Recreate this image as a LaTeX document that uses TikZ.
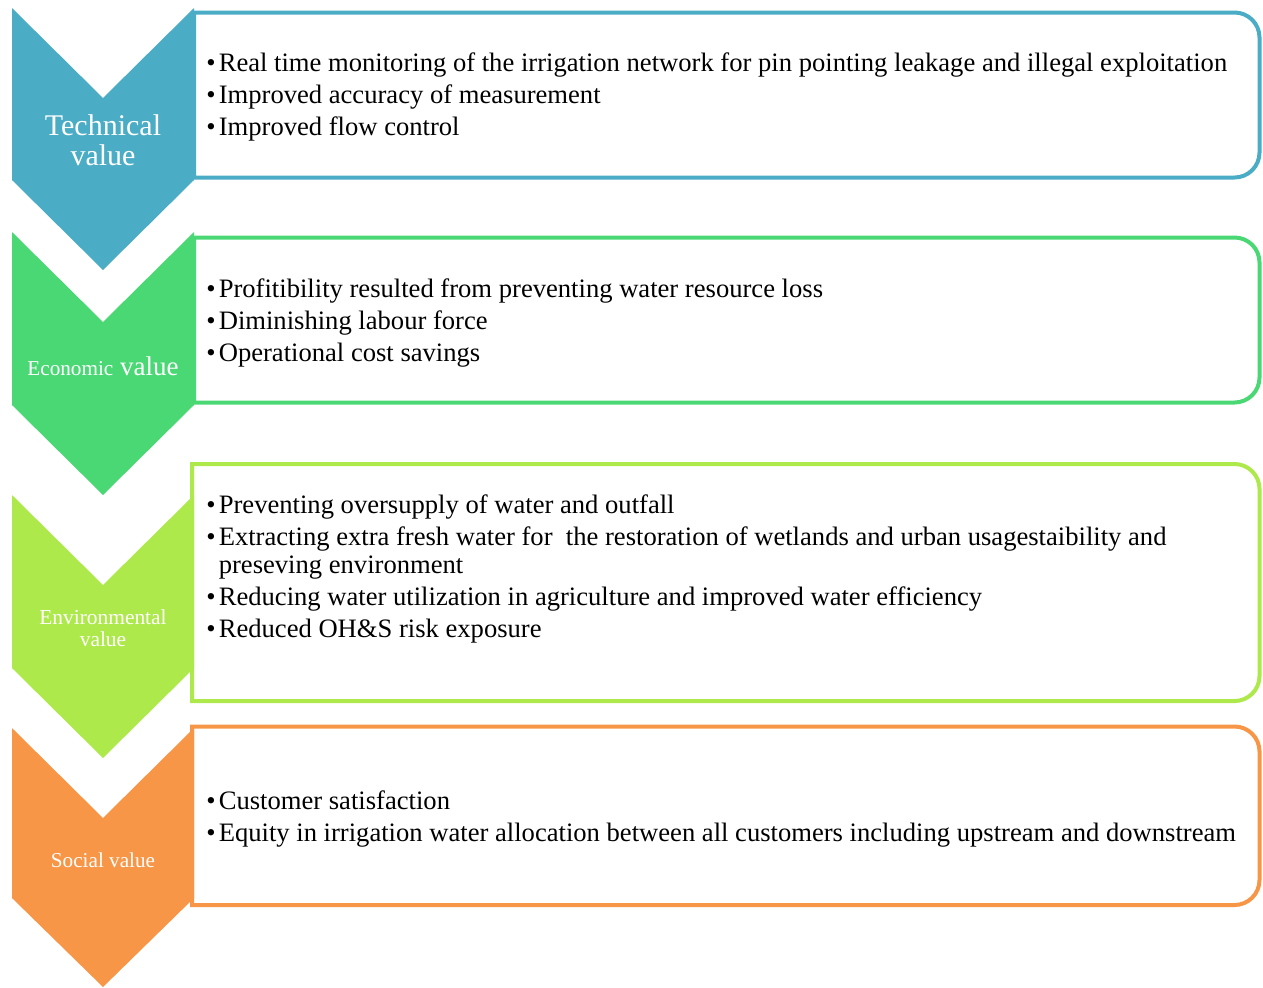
\documentclass[tikz,border=0pt]{standalone}
\usepackage{fontspec}
\setmainfont{Liberation Serif}

\definecolor{techblue}{HTML}{4BACC6}
\definecolor{econgreen}{HTML}{4AD874}
\definecolor{envlime}{HTML}{ADE94A}
\definecolor{socorange}{HTML}{F79646}

\newcommand{\bul}{\makebox[6.2pt][l]{\textbullet}}

\begin{document}
\begin{tikzpicture}[x=0.5pt,y=-0.5pt,
    valbox/.style={draw=#1,line width=2pt},
    lbl/.style={text=white,align=center,inner sep=0pt},
    items/.style={anchor=north west,align=left,inner sep=0pt,font=\fontsize{13.3}{14}\selectfont}]
  \useasboundingbox (0,0) rectangle (1263,987);

  % boxes, rounded on the right side only
  \draw[valbox=techblue] (194,12.5) [rounded corners=12.5pt] -- (1259.5,12.5) -- (1259.5,177.5) [sharp corners] -- (194,177.5) -- cycle;
  \draw[valbox=econgreen] (194,237.5) [rounded corners=12.5pt] -- (1259.5,237.5) -- (1259.5,402.5) [sharp corners] -- (194,402.5) -- cycle;
  \draw[valbox=envlime] (192,464) [rounded corners=12.5pt] -- (1259.5,464) -- (1259.5,701) [sharp corners] -- (192,701) -- cycle;
  \draw[valbox=socorange] (192,726.5) [rounded corners=12.5pt] -- (1259.5,726.5) -- (1259.5,905) [sharp corners] -- (192,905) -- cycle;

  % chevrons
  \fill[techblue] (12,8) -- (103,98) -- (194,8) -- (194,180) -- (103,270) -- (12,180) -- cycle;
  \fill[econgreen] (12,232) -- (103,322) -- (194,232) -- (194,405) -- (103,495) -- (12,405) -- cycle;
  \fill[envlime] (12,495) -- (103,585) -- (194,495) -- (194,668) -- (103,758) -- (12,668) -- cycle;
  \fill[socorange] (12,728) -- (103,818) -- (194,728) -- (194,898) -- (103,987) -- (12,898) -- cycle;

  \node[lbl,font=\fontsize{15}{15}\selectfont] (tech) at (103,140) {Technical\\value};
  \node[lbl,font=\fontsize{13.5}{15}\selectfont] (econ) at (103,366) {{\fontsize{10.6}{12}\selectfont Economic} value};
  \node[lbl,font=\fontsize{10.7}{11}\selectfont] (env) at (103,628) {Environmental\\value};
  \node[lbl,font=\fontsize{10.6}{11}\selectfont] (soc) at (103,860) {Social value};

  \node[items] (techitems) at (206,52) {\bul Real time monitoring of the irrigation network for pin pointing leakage and illegal exploitation\\[2pt]
    \bul Improved accuracy of measurement\\[2pt]
    \bul Improved flow control};
  \node[items] (econitems) at (206,278) {\bul Profitibility resulted from preventing water resource loss\\[2pt]
    \bul Diminishing labour force\\[2pt]
    \bul Operational cost savings};
  \node[items] (envitems) at (206,494) {\bul Preventing oversupply of water and outfall\\[2pt]
    \bul Extracting extra fresh water for\ \ the restoration of wetlands and urban usagestaibility and\\
    \hspace*{6.2pt}preseving environment\\[2pt]
    \bul Reducing water utilization in agriculture and improved water efficiency\\[2pt]
    \bul Reduced OH\&S risk exposure};
  \node[items] (socitems) at (206,790) {\bul Customer satisfaction\\[2pt]
    \bul Equity in irrigation water allocation between all customers including upstream and downstream};
\end{tikzpicture}
\end{document}
